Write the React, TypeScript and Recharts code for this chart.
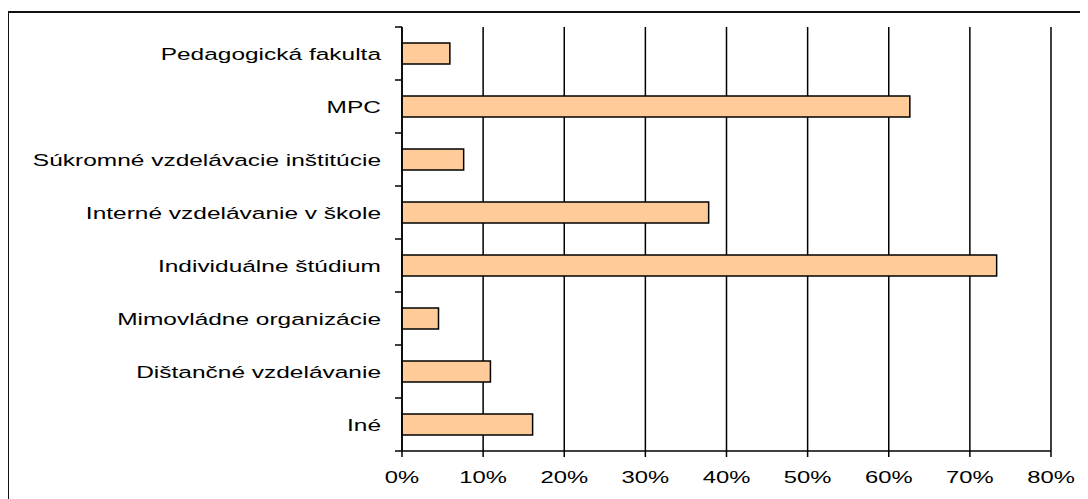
import { BarChart, Bar, XAxis, YAxis, CartesianGrid } from "recharts"

const categories = [
  "Pedagogická fakulta",
  "MPC",
  "Súkromné vzdelávacie inštitúcie",
  "Interné vzdelávanie v škole",
  "Individuálne štúdium",
  "Mimovládne organizácie",
  "Dištančné vzdelávanie",
  "Iné",
]
const values = [5.9, 62.6, 7.6, 37.8, 73.3, 4.5, 10.9, 16.1]
const xTicks = [0, 10, 20, 30, 40, 50, 60, 70, 80]

const data = categories.map((name, i) => ({ name, value: values[i] }))

const W = 1080
const H = 491
const M = { top: 19, right: 37, bottom: 18, left: 0 }
const Y_W = 394
const X_H = 30
const PLOT_LEFT = M.left + Y_W
const BAND = (H - M.top - M.bottom - X_H) / categories.length
const FONT = "'Liberation Sans', Arial, sans-serif"

function YTick({ y, index, payload }: any) {
  return (
    <g>
      <line x1={PLOT_LEFT - 7} x2={PLOT_LEFT} y1={y - BAND / 2} y2={y - BAND / 2} stroke="#000" strokeWidth={1.5} />
      {index === categories.length - 1 && (
        <line x1={PLOT_LEFT - 7} x2={PLOT_LEFT} y1={y + BAND / 2} y2={y + BAND / 2} stroke="#000" strokeWidth={1.5} />
      )}
      <text
        transform={`translate(${PLOT_LEFT - 21},${y + 6}) scale(1.44,1)`}
        textAnchor="end"
        fontSize={17}
        fontFamily={FONT}
        fill="#000"
      >
        {payload.value}
      </text>
    </g>
  )
}

function XTick({ x, y, payload }: any) {
  return (
    <text
      transform={`translate(${x},${y + 24}) scale(1.4,1)`}
      textAnchor="middle"
      fontSize={17}
      fontFamily={FONT}
      fill="#000"
    >
      {`${payload.value}%`}
    </text>
  )
}

export default function App() {
  return (
    <div style={{ position: "relative", width: W, height: H, background: "#fff" }}>
      <div
        style={{
          position: "absolute",
          left: -1,
          top: 3,
          width: W + 1,
          height: H - 3,
          borderLeft: "2px solid #111",
          borderTop: "2px solid #111",
          boxSizing: "border-box",
        }}
      />
      <BarChart
        width={W}
        height={H}
        data={data}
        layout="vertical"
        margin={M}
        barCategoryGap={0}
        style={{ position: "absolute", left: 0, top: 0 }}
      >
        <CartesianGrid horizontal={false} stroke="#000" strokeWidth={1.5} />
        <XAxis
          type="number"
          domain={[0, 80]}
          ticks={xTicks}
          interval={0}
          height={X_H}
          axisLine={{ stroke: "#000", strokeWidth: 1.5 }}
          tickLine={{ stroke: "#000", strokeWidth: 1.5 }}
          tickSize={6}
          tick={<XTick />}
        />
        <YAxis
          type="category"
          dataKey="name"
          width={Y_W}
          interval={0}
          axisLine={{ stroke: "#000", strokeWidth: 1.5 }}
          tickLine={false}
          tick={<YTick />}
        />
        <Bar dataKey="value" fill="#FFCC99" stroke="#000" strokeWidth={1.5} barSize={21} isAnimationActive={false} />
      </BarChart>
    </div>
  )
}
